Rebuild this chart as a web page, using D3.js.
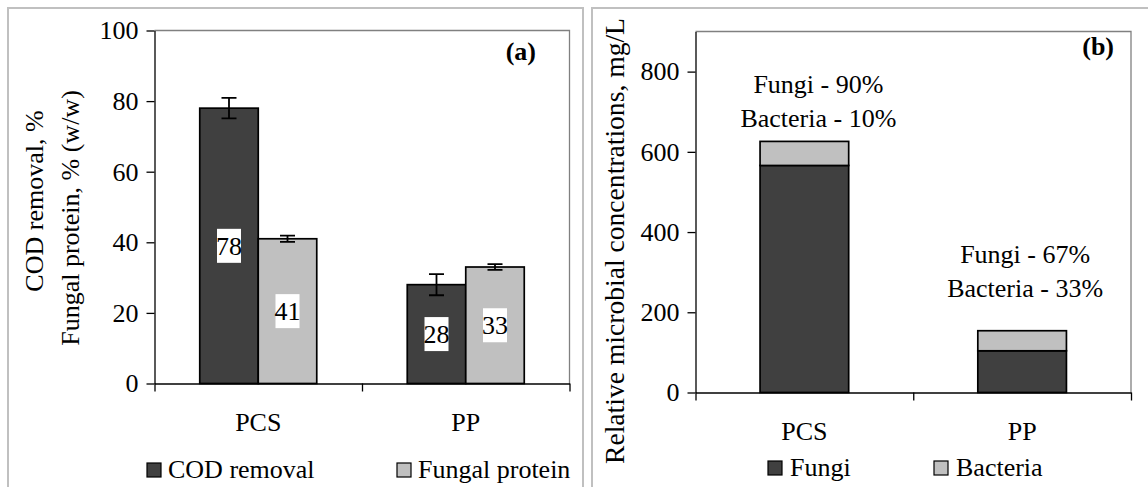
<!DOCTYPE html>
<html>
<head>
<meta charset="utf-8">
<script src="https://cdn.jsdelivr.net/npm/d3@7"></script>
<style>
  html, body { margin: 0; padding: 0; background: #fff; }
  svg { display: block; }
</style>
</head>
<body>
<svg id="fig" width="1148" height="487"></svg>
<script>
// ---- data ----
const categories = ["PCS", "PP"];

// panel (a): COD removal and fungal protein, %
const seriesA = ["COD removal", "Fungal protein"];
const codRemoval = [78, 28];
const codRemovalErr = [2.9, 3.0];
const fungalProtein = [41, 33];
const fungalProteinErr = [0.9, 0.8];
const yTicksA = [0, 20, 40, 60, 80, 100];

// panel (b): relative microbial concentrations, mg/L
const seriesB = ["Fungi", "Bacteria"];
const fungi = [566, 104];
const bacteria = [60, 50];
const fungiShare = ["90%", "67%"];
const bacteriaShare = ["10%", "33%"];
const yTicksB = [0, 200, 400, 600, 800];

// ---- styles ----
const DARK = "#404040", LIGHT = "#c0c0c0", FRAME = "#c0c0c0", PLOTEDGE = "#808080";
const FS = 26;
const FAMILY = "'Liberation Serif', 'Times New Roman', serif";

function font(sel, size = FS, weight = "normal") {
  return sel.style("font-family", FAMILY).style("font-size", size + "px")
    .style("font-weight", weight).style("fill", "#000");
}

const svg = d3.select("#fig");

// panel frames
svg.append("rect").attr("x", 8).attr("y", 8).attr("width", 575).attr("height", 600)
  .attr("fill", "none").attr("stroke", FRAME).attr("stroke-width", 2);
svg.append("rect").attr("x", 592).attr("y", 8).attr("width", 600).attr("height", 600)
  .attr("fill", "none").attr("stroke", FRAME).attr("stroke-width", 2);

function styleAxis(g) {
  g.attr("font-family", null).attr("font-size", null);
  g.selectAll("path.domain").attr("stroke", "#000").attr("stroke-width", 1.3);
  g.selectAll(".tick line").attr("stroke", "#000").attr("stroke-width", 1.3);
  font(g.selectAll("text"));
}

// ======================= panel (a) =======================
const A = { left: 154.5, right: 569.5, top: 30.5, bottom: 383.5 };
const xA = d3.scaleBand().domain(categories).range([A.left, A.right]).padding(0);
const xSubA = d3.scaleBand().domain(seriesA).range([0, xA.bandwidth()]).paddingInner(0).paddingOuter(0.7735);
const yA = d3.scaleLinear().domain([0, 100]).range([A.bottom, A.top]);
const colorA = d3.scaleOrdinal().domain(seriesA).range([DARK, LIGHT]);

// plot-area edges (top and right)
svg.append("path")
  .attr("d", `M${A.left},${A.top}H${A.right}V${A.bottom}`)
  .attr("fill", "none").attr("stroke", PLOTEDGE).attr("stroke-width", 1.3);

const gA = svg.append("g");
const rowsA = categories.map((c, i) => ({
  cat: c,
  items: [
    { s: seriesA[0], v: codRemoval[i], e: codRemovalErr[i] },
    { s: seriesA[1], v: fungalProtein[i], e: fungalProteinErr[i] }
  ]
}));

const groups = gA.selectAll("g.grp").data(rowsA).join("g")
  .attr("transform", d => `translate(${xA(d.cat)},0)`);

groups.selectAll("rect").data(d => d.items).join("rect")
  .attr("x", d => xSubA(d.s)).attr("width", xSubA.bandwidth())
  .attr("y", d => yA(d.v)).attr("height", d => yA(0) - yA(d.v))
  .attr("fill", d => colorA(d.s)).attr("stroke", "#000").attr("stroke-width", 1.7);

// error bars
const capW = 15;
groups.selectAll("path.err").data(d => d.items).join("path").attr("class", "err")
  .attr("d", d => {
    const cx = xSubA(d.s) + xSubA.bandwidth() / 2;
    const y1 = yA(d.v + d.e), y2 = yA(d.v - d.e);
    return `M${cx - capW / 2},${y1}H${cx + capW / 2}M${cx},${y1}V${y2}M${cx - capW / 2},${y2}H${cx + capW / 2}`;
  })
  .attr("fill", "none").attr("stroke", "#000").attr("stroke-width", 1.8);

// value labels on white boxes, centred in the bars
groups.selectAll("g.lbl").data(d => d.items).join("g").attr("class", "lbl")
  .each(function (d) {
    const g = d3.select(this);
    const cx = xSubA(d.s) + xSubA.bandwidth() / 2;
    const cy = (yA(d.v) + yA(0)) / 2;
    const t = font(g.append("text")).attr("x", cx).attr("y", cy).attr("dy", "0.35em")
      .attr("text-anchor", "middle").text(d.v);
    const w = t.node().getBBox().width - 2;
    g.insert("rect", "text").attr("x", cx - w / 2).attr("y", cy - 17)
      .attr("width", w).attr("height", 34).attr("fill", "#fff");
  });

// y axis
const yAxisA = svg.append("g").attr("transform", `translate(${A.left},0)`)
  .call(d3.axisLeft(yA).tickValues(yTicksA).tickFormat(d3.format("d")).tickSize(8).tickSizeOuter(0).tickPadding(8));
styleAxis(yAxisA);

// x axis: tick marks between categories, labels at centres
const xEdgeA = d3.scaleLinear().domain([0, categories.length]).range([A.left, A.right]);
const xAxisA = svg.append("g").attr("transform", `translate(0,${A.bottom})`)
  .call(d3.axisBottom(xEdgeA).ticks(categories.length).tickFormat("").tickSize(8).tickSizeOuter(0));
styleAxis(xAxisA);
const xLabA = svg.append("g").attr("transform", `translate(0,${A.bottom})`)
  .call(d3.axisBottom(xA).tickSize(0).tickPadding(29));
xLabA.select("path.domain").remove();
styleAxis(xLabA);

// axis title (two lines)
font(svg.append("text")).attr("transform", "translate(43,201) rotate(-90)")
  .attr("text-anchor", "middle").text("COD removal, %");
font(svg.append("text")).attr("transform", "translate(79,218) rotate(-90)")
  .attr("text-anchor", "middle").text("Fungal protein, % (w/w)");

// panel tag
font(svg.append("text"), FS, "bold").attr("x", 536).attr("y", 60).attr("text-anchor", "end").text("(a)");

// legend
const legA = svg.append("g");
const legAx = [147, 397];
seriesA.forEach((s, i) => {
  legA.append("rect").attr("x", legAx[i]).attr("y", 463).attr("width", 14).attr("height", 14)
    .attr("fill", colorA(s)).attr("stroke", "#000").attr("stroke-width", 1.2);
  font(legA.append("text")).attr("x", legAx[i] + 21).attr("y", 478).text(s);
});

// ======================= panel (b) =======================
const B = { left: 695.5, right: 1131, top: 31.5, bottom: 392.5 };
const xB = d3.scaleBand().domain(categories).range([B.left, B.right]).paddingInner(0.593).paddingOuter(0.2965);
const yB = d3.scaleLinear().domain([0, 900]).range([B.bottom, B.top]);
const colorB = d3.scaleOrdinal().domain(seriesB).range([DARK, LIGHT]);

svg.append("path")
  .attr("d", `M${B.left},${B.top}H${B.right}V${B.bottom}`)
  .attr("fill", "none").attr("stroke", PLOTEDGE).attr("stroke-width", 1.3);

const tableB = categories.map((c, i) => ({ cat: c, Fungi: fungi[i], Bacteria: bacteria[i] }));
const stacked = d3.stack().keys(seriesB)(tableB);

svg.append("g").selectAll("g").data(stacked).join("g")
  .attr("fill", d => colorB(d.key))
  .selectAll("rect").data(d => d).join("rect")
  .attr("x", d => xB(d.data.cat)).attr("width", xB.bandwidth())
  .attr("y", d => yB(d[1])).attr("height", d => yB(d[0]) - yB(d[1]))
  .attr("stroke", "#000").attr("stroke-width", 1.7);

const yAxisB = svg.append("g").attr("transform", `translate(${B.left},0)`)
  .call(d3.axisLeft(yB).tickValues(yTicksB).tickFormat(d3.format("d")).tickSize(8).tickSizeOuter(0).tickPadding(8));
styleAxis(yAxisB);

const xEdgeB = d3.scaleLinear().domain([0, categories.length]).range([B.left, B.right]);
const xAxisB = svg.append("g").attr("transform", `translate(0,${B.bottom})`)
  .call(d3.axisBottom(xEdgeB).ticks(categories.length).tickFormat("").tickSize(8).tickSizeOuter(0));
styleAxis(xAxisB);
const xLabB = svg.append("g").attr("transform", `translate(0,${B.bottom})`)
  .call(d3.axisBottom(xB).tickSize(0).tickPadding(29));
xLabB.select("path.domain").remove();
styleAxis(xLabB);

font(svg.append("text"), 27.6).attr("transform", "translate(624,241) rotate(-90)")
  .attr("text-anchor", "middle").text("Relative microbial concentrations, mg/L");

font(svg.append("text"), FS, "bold").attr("x", 1114).attr("y", 55).attr("text-anchor", "end").text("(b)");

// composition notes above the stacks (offsets above each stack top)
const noteLift = [14, 34];
categories.forEach((c, i) => {
  const cx = xB(c) + xB.bandwidth() / 2 + (i === 0 ? 14 : 3);
  const base = yB(fungi[i] + bacteria[i]) - noteLift[i];
  font(svg.append("text")).attr("x", cx).attr("y", base - 34).attr("text-anchor", "middle")
    .text(`Fungi - ${fungiShare[i]}`);
  font(svg.append("text")).attr("x", cx).attr("y", base).attr("text-anchor", "middle")
    .text(`Bacteria - ${bacteriaShare[i]}`);
});

// legend
const legB = svg.append("g");
const legBx = [768, 934];
seriesB.forEach((s, i) => {
  legB.append("rect").attr("x", legBx[i]).attr("y", 461).attr("width", 14).attr("height", 14)
    .attr("fill", colorB(s)).attr("stroke", "#000").attr("stroke-width", 1.2);
  font(legB.append("text")).attr("x", legBx[i] + 22).attr("y", 476).text(s);
});
</script>
</body>
</html>
